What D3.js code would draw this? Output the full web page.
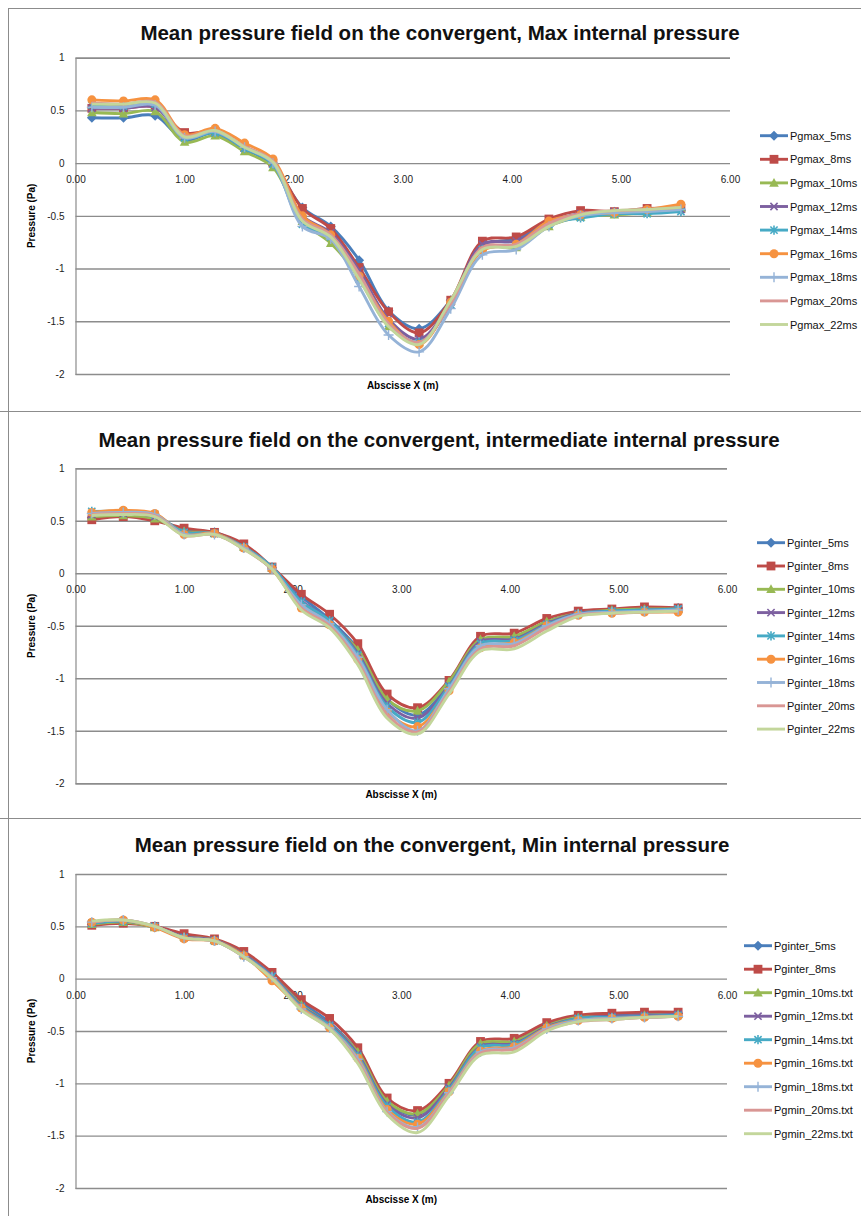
<!DOCTYPE html>
<html>
<head>
<meta charset="utf-8">
<script src="https://cdn.jsdelivr.net/npm/d3@7"></script>
<style>
body { margin: 0; background: #fff; }
svg { display: block; }
</style>
</head>
<body>
<script>
// abscissa of the probes (m)
const xs = [0.15, 0.44, 0.73, 1.0, 1.28, 1.55, 1.81, 2.08, 2.34, 2.6, 2.87, 3.15, 3.44, 3.73, 4.04, 4.34, 4.63, 4.94, 5.24, 5.55]
const yTicks = [1, 0.5, 0, -0.5, -1, -1.5, -2]
const xTicks = [0, 1, 2, 3, 4, 5, 6]

const titles = [
  "Mean pressure field on the convergent, Max internal pressure",
  "Mean pressure field on the convergent, intermediate internal pressure",
  "Mean pressure field on the convergent, Min internal pressure"
]

const maxNames = ["Pgmax_5ms", "Pgmax_8ms", "Pgmax_10ms", "Pgmax_12ms", "Pgmax_14ms", "Pgmax_16ms", "Pgmax_18ms", "Pgmax_20ms", "Pgmax_22ms"]
const interNames = ["Pginter_5ms", "Pginter_8ms", "Pginter_10ms", "Pginter_12ms", "Pginter_14ms", "Pginter_16ms", "Pginter_18ms", "Pginter_20ms", "Pginter_22ms"]
const minNames = ["Pginter_5ms", "Pginter_8ms", "Pgmin_10ms.txt", "Pgmin_12ms.txt", "Pgmin_14ms.txt", "Pgmin_16ms.txt", "Pgmin_18ms.txt", "Pgmin_20ms.txt", "Pgmin_22ms.txt"]

// Max internal pressure
const pgmax5  = [0.43, 0.43, 0.45, 0.22, 0.29, 0.14, -0.02, -0.42, -0.60, -0.92, -1.40, -1.57, -1.30, -0.78, -0.72, -0.56, -0.48, -0.46, -0.45, -0.45]
const pgmax8  = [0.52, 0.52, 0.53, 0.29, 0.30, 0.15, 0.00, -0.43, -0.62, -0.99, -1.41, -1.61, -1.30, -0.74, -0.70, -0.53, -0.45, -0.46, -0.43, -0.43]
const pgmax10 = [0.48, 0.47, 0.49, 0.20, 0.26, 0.11, -0.04, -0.55, -0.76, -1.08, -1.55, -1.70, -1.31, -0.80, -0.80, -0.60, -0.51, -0.49, -0.47, -0.43]
const pgmax12 = [0.52, 0.52, 0.53, 0.25, 0.29, 0.14, 0.00, -0.50, -0.66, -1.02, -1.48, -1.67, -1.32, -0.77, -0.74, -0.57, -0.48, -0.46, -0.45, -0.44]
const pgmax14 = [0.55, 0.54, 0.56, 0.24, 0.29, 0.14, -0.01, -0.58, -0.70, -1.10, -1.52, -1.70, -1.34, -0.82, -0.78, -0.58, -0.52, -0.48, -0.48, -0.46]
const pgmax16 = [0.60, 0.59, 0.60, 0.27, 0.33, 0.19, 0.04, -0.50, -0.68, -1.07, -1.50, -1.72, -1.32, -0.83, -0.77, -0.55, -0.49, -0.47, -0.44, -0.39]
const pgmax18 = [0.53, 0.53, 0.55, 0.24, 0.30, 0.15, 0.00, -0.60, -0.72, -1.17, -1.63, -1.79, -1.38, -0.87, -0.82, -0.60, -0.50, -0.47, -0.46, -0.44]
const pgmax20 = [0.57, 0.56, 0.58, 0.26, 0.31, 0.16, 0.02, -0.53, -0.68, -1.05, -1.52, -1.70, -1.33, -0.80, -0.77, -0.57, -0.48, -0.45, -0.44, -0.42]
const pgmax22 = [0.56, 0.56, 0.57, 0.25, 0.31, 0.15, 0.01, -0.55, -0.70, -1.10, -1.55, -1.72, -1.30, -0.82, -0.79, -0.60, -0.49, -0.45, -0.44, -0.42]

// intermediate internal pressure
const pginter5  = [0.53, 0.55, 0.53, 0.41, 0.39, 0.26, 0.05, -0.22, -0.44, -0.72, -1.20, -1.35, -1.06, -0.65, -0.61, -0.46, -0.38, -0.35, -0.34, -0.33]
const pginter8  = [0.51, 0.54, 0.50, 0.43, 0.39, 0.28, 0.06, -0.20, -0.39, -0.67, -1.15, -1.28, -1.02, -0.60, -0.57, -0.43, -0.36, -0.34, -0.32, -0.33]
const pginter10 = [0.54, 0.55, 0.52, 0.40, 0.38, 0.25, 0.05, -0.28, -0.48, -0.73, -1.20, -1.31, -1.03, -0.63, -0.60, -0.46, -0.38, -0.35, -0.34, -0.34]
const pginter12 = [0.56, 0.57, 0.54, 0.39, 0.38, 0.25, 0.05, -0.26, -0.45, -0.76, -1.24, -1.38, -1.07, -0.65, -0.63, -0.48, -0.38, -0.36, -0.35, -0.34]
const pginter14 = [0.59, 0.59, 0.56, 0.39, 0.38, 0.25, 0.06, -0.27, -0.45, -0.78, -1.27, -1.42, -1.08, -0.67, -0.64, -0.49, -0.39, -0.36, -0.35, -0.34]
const pginter16 = [0.58, 0.60, 0.57, 0.37, 0.38, 0.24, 0.04, -0.33, -0.49, -0.82, -1.32, -1.46, -1.12, -0.71, -0.66, -0.50, -0.40, -0.38, -0.37, -0.37]
const pginter18 = [0.57, 0.58, 0.56, 0.37, 0.37, 0.24, 0.04, -0.30, -0.48, -0.80, -1.30, -1.50, -1.10, -0.69, -0.67, -0.50, -0.39, -0.37, -0.36, -0.35]
const pginter20 = [0.56, 0.57, 0.55, 0.36, 0.37, 0.23, 0.04, -0.33, -0.50, -0.84, -1.35, -1.51, -1.13, -0.72, -0.69, -0.52, -0.40, -0.38, -0.37, -0.36]
const pginter22 = [0.55, 0.56, 0.54, 0.36, 0.37, 0.23, 0.04, -0.35, -0.52, -0.87, -1.38, -1.53, -1.15, -0.74, -0.72, -0.55, -0.41, -0.38, -0.37, -0.36]

// Min internal pressure
const pgmin5  = [0.52, 0.54, 0.49, 0.41, 0.37, 0.24, 0.04, -0.22, -0.42, -0.70, -1.18, -1.30, -1.04, -0.64, -0.60, -0.44, -0.37, -0.35, -0.34, -0.33]
const pgmin8  = [0.51, 0.53, 0.50, 0.43, 0.38, 0.26, 0.06, -0.20, -0.38, -0.66, -1.14, -1.26, -1.00, -0.60, -0.57, -0.42, -0.35, -0.33, -0.32, -0.32]
const pgmin10 = [0.52, 0.54, 0.49, 0.40, 0.37, 0.23, 0.03, -0.25, -0.44, -0.70, -1.17, -1.29, -1.02, -0.62, -0.60, -0.45, -0.37, -0.37, -0.35, -0.34]
const pgmin12 = [0.53, 0.55, 0.50, 0.40, 0.37, 0.23, 0.03, -0.26, -0.44, -0.72, -1.20, -1.33, -1.04, -0.65, -0.62, -0.46, -0.38, -0.36, -0.35, -0.34]
const pgmin14 = [0.53, 0.55, 0.50, 0.39, 0.36, 0.22, 0.02, -0.27, -0.45, -0.74, -1.22, -1.37, -1.06, -0.66, -0.63, -0.47, -0.38, -0.37, -0.36, -0.35]
const pgmin16 = [0.54, 0.56, 0.49, 0.38, 0.36, 0.22, -0.02, -0.28, -0.47, -0.76, -1.25, -1.39, -1.08, -0.69, -0.65, -0.47, -0.40, -0.38, -0.37, -0.36]
const pgmin18 = [0.54, 0.56, 0.50, 0.39, 0.36, 0.21, 0.01, -0.29, -0.47, -0.77, -1.27, -1.42, -1.09, -0.70, -0.66, -0.48, -0.40, -0.38, -0.37, -0.36]
const pgmin20 = [0.54, 0.56, 0.50, 0.39, 0.36, 0.21, 0.01, -0.29, -0.48, -0.79, -1.28, -1.43, -1.10, -0.71, -0.67, -0.49, -0.41, -0.39, -0.37, -0.36]
const pgmin22 = [0.55, 0.56, 0.50, 0.39, 0.36, 0.21, 0.00, -0.30, -0.48, -0.81, -1.30, -1.47, -1.12, -0.73, -0.70, -0.50, -0.41, -0.39, -0.37, -0.36]

const colors = ["#4A7EBB", "#BE4B48", "#98B954", "#7D60A0", "#46AAC5", "#F69240", "#95B3D7", "#D99694", "#C3D69B"]
const markers = ["diamond", "square", "triangle", "x", "star", "circle", "plus", null, null]

const W = 861, H = 1216
const svg = d3.select("body").append("svg")
  .attr("width", W)
  .attr("height", H)
  .style("font-family", "'Liberation Sans', Arial, sans-serif")

// frames around the three chart areas
svg.append("rect").attr("x", 8.5).attr("y", 8.5).attr("width", 870).attr("height", 1220)
  .attr("fill", "none").attr("stroke", "#8c8c8c").attr("stroke-width", 1)
;[411.5, 818.5].forEach(y => {
  svg.append("line").attr("x1", 0).attr("x2", W).attr("y1", y).attr("y2", y)
    .attr("stroke", "#8c8c8c").attr("stroke-width", 1.2)
})

const charts = [
  {title: titles[0], names: maxNames, data: [pgmax5, pgmax8, pgmax10, pgmax12, pgmax14, pgmax16, pgmax18, pgmax20, pgmax22],
   top: 57.7, bottom: 374, left: 75.5, right: 730, titleY: 40, titleX: 440, legX: 760, legY: 135.7, legStep: 23.6},
  {title: titles[1], names: interNames, data: [pginter5, pginter8, pginter10, pginter12, pginter14, pginter16, pginter18, pginter20, pginter22],
   top: 468.3, bottom: 783.3, left: 75.5, right: 727, titleY: 447, titleX: 439, legX: 757, legY: 542.7, legStep: 23.3},
  {title: titles[2], names: minNames, data: [pgmin5, pgmin8, pgmin10, pgmin12, pgmin14, pgmin16, pgmin18, pgmin20, pgmin22],
   top: 874, bottom: 1188, left: 75.5, right: 727, titleY: 852, titleX: 432, legX: 744, legY: 945.7, legStep: 23.5}
]

function drawMarker(g, type, color) {
  if (type === "diamond") {
    g.append("path").attr("d", "M0,-5L5,0L0,5L-5,0Z").attr("fill", color)
  } else if (type === "square") {
    g.append("rect").attr("x", -4.4).attr("y", -4.4).attr("width", 8.8).attr("height", 8.8).attr("fill", color)
  } else if (type === "triangle") {
    g.append("path").attr("d", "M0,-5L4.8,3.8L-4.8,3.8Z").attr("fill", color)
  } else if (type === "circle") {
    g.append("circle").attr("r", 4.5).attr("fill", color)
  } else if (type === "x") {
    g.append("path").attr("d", "M-3.6,-3.6L3.6,3.6M-3.6,3.6L3.6,-3.6").attr("stroke", color).attr("stroke-width", 1.6)
  } else if (type === "star") {
    g.append("path").attr("d", "M-3.6,-3.6L3.6,3.6M-3.6,3.6L3.6,-3.6M0,-4.6L0,4.6").attr("stroke", color).attr("stroke-width", 1.6)
  } else if (type === "plus") {
    g.append("path").attr("d", "M-5,0L5,0M0,-5L0,5").attr("stroke", color).attr("stroke-width", 1.4)
  }
}

charts.forEach(c => {
  const g = svg.append("g")

  const xScale = d3.scaleLinear().domain([0, 6]).range([c.left, c.right])
  const yScale = d3.scaleLinear().domain([-2, 1]).range([c.bottom, c.top])

  // title
  g.append("text")
    .attr("x", c.titleX).attr("y", c.titleY)
    .attr("text-anchor", "middle")
    .style("font-size", "20.5px").style("font-weight", "bold")
    .attr("fill", "#111")
    .text(c.title)

  // gridlines + y labels
  const yAxis = d3.axisLeft(yScale).tickValues(yTicks).tickSize(-(c.right - c.left)).tickPadding(11).tickFormat(d => String(d))
  const yg = g.append("g").attr("transform", "translate(" + c.left + ",0)").call(yAxis)
  yg.select(".domain").attr("stroke", "#8c8c8c").attr("stroke-width", 1.2)
  yg.selectAll(".tick line").attr("stroke", "#8c8c8c").attr("stroke-width", 1.4)
  yg.selectAll(".tick text").style("font-size", "10px").attr("fill", "#222").style("font-family", "'Liberation Sans', Arial, sans-serif")

  // x labels sitting under the zero line
  const xAxis = d3.axisBottom(xScale).tickValues(xTicks).tickSize(0).tickPadding(13).tickFormat(d3.format(".2f"))
  const xg = g.append("g").attr("transform", "translate(0," + yScale(0) + ")").call(xAxis)
  xg.select(".domain").remove()
  xg.selectAll(".tick text").style("font-size", "10px").attr("fill", "#222").style("font-family", "'Liberation Sans', Arial, sans-serif")

  // axis titles
  g.append("text")
    .attr("transform", "translate(35," + ((c.top + c.bottom) / 2) + ") rotate(-90)")
    .attr("text-anchor", "middle")
    .style("font-size", "10px").style("font-weight", "bold")
    .text("Pressure (Pa)")
  g.append("text")
    .attr("x", (c.left + c.right) / 2).attr("y", c.bottom + 15)
    .attr("text-anchor", "middle")
    .style("font-size", "10px").style("font-weight", "bold")
    .text("Abscisse X (m)")

  // series
  const line = d3.line()
    .x((d, i) => xScale(xs[i]))
    .y(d => yScale(d))
    .curve(d3.curveCatmullRom.alpha(0.5))

  c.data.forEach((vals, si) => {
    g.append("path")
      .datum(vals)
      .attr("d", line)
      .attr("fill", "none")
      .attr("stroke", colors[si])
      .attr("stroke-width", 2.9)
      .attr("stroke-linejoin", "round")
    if (markers[si]) {
      vals.forEach((v, i) => {
        const m = g.append("g").attr("transform", "translate(" + xScale(xs[i]) + "," + yScale(v) + ")")
        drawMarker(m, markers[si], colors[si])
      })
    }
  })

  // legend
  c.names.forEach((name, si) => {
    const ly = c.legY + si * c.legStep
    g.append("line")
      .attr("x1", c.legX).attr("x2", c.legX + 28)
      .attr("y1", ly).attr("y2", ly)
      .attr("stroke", colors[si]).attr("stroke-width", 2.9)
    if (markers[si]) {
      const m = g.append("g").attr("transform", "translate(" + (c.legX + 14) + "," + ly + ")")
      drawMarker(m, markers[si], colors[si])
    }
    g.append("text")
      .attr("x", c.legX + 30).attr("y", ly + 4)
      .style("font-size", "11px")
      .attr("fill", "#111")
      .text(name)
  })
})
</script>
</body>
</html>
